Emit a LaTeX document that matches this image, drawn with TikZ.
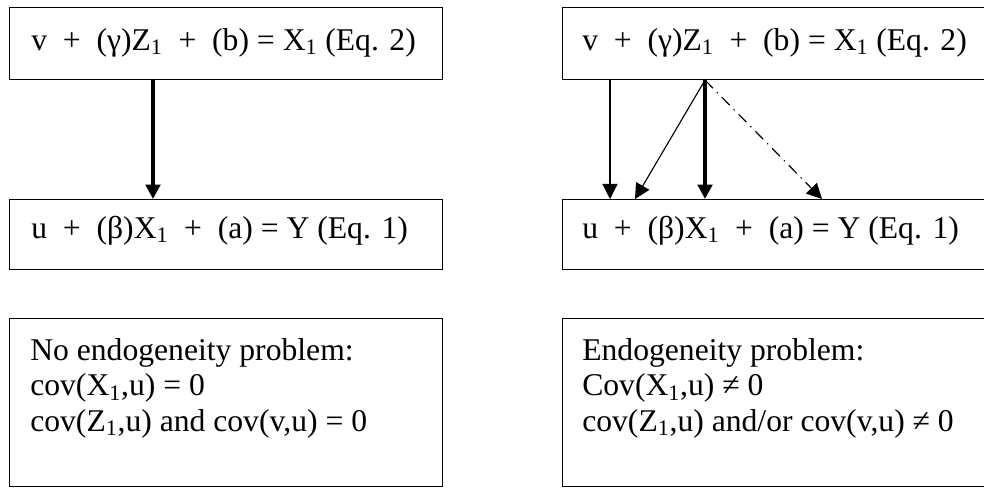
\documentclass[tikz,border=0pt]{standalone}
\usepackage{fontspec}
\setmainfont{Liberation Serif}
\usetikzlibrary{arrows.meta,calc}

\tikzset{
  eqbox/.style={draw, line width=0.8pt, anchor=north west, inner sep=0pt, minimum width=10.825cm},
  eqtext/.style={anchor=base west, inner sep=0pt, font=\fontsize{22.5}{24.9}\selectfont, align=left},
  bigarrow/.style={line width=3.4pt, -{Triangle[length=0.36cm, width=0.36cm]}},
  thinarrow/.style={line width=0.8pt, -{Triangle[length=0.38cm, width=0.38cm]}}
}

\begin{document}
\begin{tikzpicture}[x=0.025cm, y=-0.025cm]
  \clip (0,0) rectangle (984,487);
  % left column
  \node[eqbox, minimum height=1.8cm] (eqtwoL) at (9,7) {};
  \node[eqbox, minimum height=1.75cm] (eqoneL) at (9,199) {};
  \node[eqbox, minimum height=4.2cm] (noteL) at (9,318) {};
  % right column
  \node[eqbox, minimum height=1.8cm] (eqtwoR) at (562,7) {};
  \node[eqbox, minimum height=1.75cm] (eqoneR) at (562,199) {};
  \node[eqbox, minimum height=4.2cm] (noteR) at (562,318) {};

  \foreach \b/\dx in {L/22,R/20} {
    \node[eqtext] (txttwo\b) at ($(eqtwo\b.north west)+(\dx,43)$)
      {v\ \ +\ \ (γ)Z\textsubscript{1}\ \ +\ \ (b) = X\textsubscript{1} (Eq. 2)};
    \node[eqtext] (txtone\b) at ($(eqone\b.north west)+(\dx,39)$)
      {u\ \ +\ \ (β)X\textsubscript{1}\ \ +\ \ (a) = Y (Eq. 1)};
  }
  \node[eqtext] (txtnoteL) at ($(noteL.north west)+(21,113)$)
    {No endogeneity problem:\\ cov(X\textsubscript{1},u) = 0\\ cov(Z\textsubscript{1},u) and cov(v,u) = 0};
  \node[eqtext] (txtnoteR) at ($(noteR.north west)+(20,113)$)
    {Endogeneity problem:\\ Cov(X\textsubscript{1},u) ≠ 0\\ cov(Z\textsubscript{1},u) and/or cov(v,u) ≠ 0};

  % arrows
  \draw[bigarrow] ($(eqtwoL.south west)+(144,0)$) -- ($(eqoneL.north west)+(144,0)$);
  \draw[bigarrow] ($(eqtwoR.south west)+(143,0)$) -- ($(eqoneR.north west)+(143,0)$);
  \draw[thinarrow] ($(eqtwoR.south west)+(48,0)$) -- ($(eqoneR.north west)+(48,0)$);
  \draw[thinarrow] ($(eqtwoR.south west)+(143,0)$) -- ($(eqoneR.north west)+(73,0)$);
  \draw[thinarrow, dash pattern=on 8pt off 4pt on 1pt off 4pt] ($(eqtwoR.south west)+(143,0)$) -- ($(eqoneR.north west)+(260,0)$);
\end{tikzpicture}
\end{document}
